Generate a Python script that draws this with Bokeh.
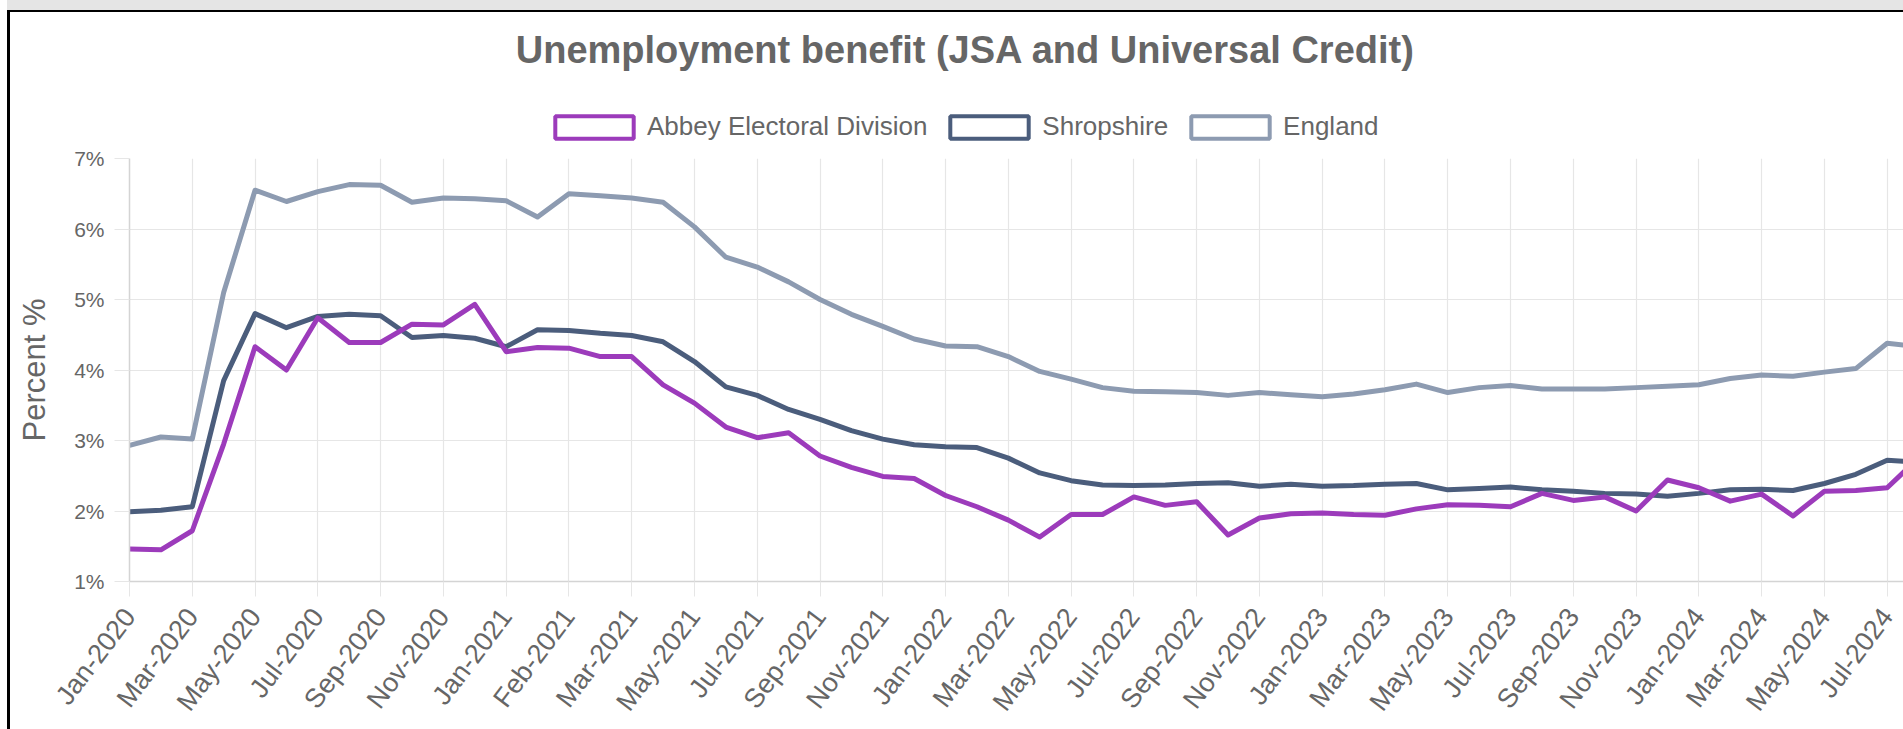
import math
from bokeh.plotting import figure
from bokeh.layouts import column
from bokeh.models import (FixedTicker, Range1d, Legend, LegendItem, Label,
                          PrintfTickFormatter)
from bokeh.embed import file_html
from bokeh.resources import INLINE

# ---------------- data ----------------
months = [
    "Jan-2020", "Feb-2020", "Mar-2020", "Apr-2020", "May-2020", "Jun-2020",
    "Jul-2020", "Aug-2020", "Sep-2020", "Oct-2020", "Nov-2020", "Dec-2020",
    "Jan-2021", "Jan-2021 (r)", "Feb-2021", "Feb-2021 (r)", "Mar-2021", "Apr-2021",
    "May-2021", "Jun-2021", "Jul-2021", "Aug-2021", "Sep-2021", "Oct-2021",
    "Nov-2021", "Dec-2021", "Jan-2022", "Feb-2022", "Mar-2022", "Apr-2022",
    "May-2022", "Jun-2022", "Jul-2022", "Aug-2022", "Sep-2022", "Oct-2022",
    "Nov-2022", "Dec-2022", "Jan-2023", "Feb-2023", "Mar-2023", "Apr-2023",
    "May-2023", "Jun-2023", "Jul-2023", "Aug-2023", "Sep-2023", "Oct-2023",
    "Nov-2023", "Dec-2023", "Jan-2024", "Feb-2024", "Mar-2024", "Apr-2024",
    "May-2024", "Jun-2024", "Jul-2024", "Aug-2024",
]

abbey = [
    1.46, 1.45, 1.72, 2.95, 4.33, 4.00, 4.74, 4.39, 4.39, 4.65,
    4.64, 4.93, 4.26, 4.32, 4.31, 4.19, 4.19, 3.79, 3.53, 3.19,
    3.04, 3.11, 2.78, 2.62, 2.49, 2.46, 2.22, 2.06, 1.87, 1.63,
    1.95, 1.95, 2.20, 2.08, 2.13, 1.66, 1.90, 1.96, 1.97, 1.95,
    1.94, 2.03, 2.09, 2.08, 2.06, 2.25, 2.15, 2.20, 2.00, 2.44,
    2.33, 2.14, 2.24, 1.93, 2.28, 2.29, 2.33, 2.75,
]

shropshire = [
    1.99, 2.01, 2.06, 3.85, 4.80, 4.60, 4.76, 4.79, 4.77, 4.46,
    4.49, 4.45, 4.33, 4.57, 4.56, 4.52, 4.49, 4.40, 4.12, 3.76,
    3.64, 3.44, 3.30, 3.14, 3.02, 2.94, 2.91, 2.90, 2.75, 2.54,
    2.43, 2.37, 2.36, 2.37, 2.39, 2.40, 2.35, 2.38, 2.35, 2.36,
    2.38, 2.39, 2.30, 2.32, 2.34, 2.30, 2.28, 2.25, 2.24, 2.21,
    2.25, 2.30, 2.31, 2.29, 2.39, 2.52, 2.72, 2.69,
]

england = [
    2.93, 3.05, 3.02, 5.10, 6.55, 6.39, 6.53, 6.63, 6.62, 6.38,
    6.44, 6.43, 6.40, 6.17, 6.50, 6.47, 6.44, 6.38, 6.03, 5.60,
    5.46, 5.25, 5.00, 4.79, 4.62, 4.44, 4.34, 4.33, 4.19, 3.98,
    3.87, 3.75, 3.70, 3.69, 3.68, 3.64, 3.68, 3.65, 3.62, 3.66,
    3.72, 3.80, 3.68, 3.75, 3.78, 3.73, 3.73, 3.73, 3.75, 3.77,
    3.79, 3.88, 3.93, 3.91, 3.97, 4.02, 4.38, 4.33,
]

series_names = ["Abbey Electoral Division", "Shropshire", "England"]
series_values = [abbey, shropshire, england]
series_colors = ["#9c3bbb", "#4b5d7c", "#8d9bb1"]

title_text = "Unemployment benefit (JSA and Universal Credit)"
y_title = "Percent %"
y_ticks = [1, 2, 3, 4, 5, 6, 7]

FONT = "Liberation Sans"
TXT = "#666666"
GRID = "#e6e6e6"

# ---------------- header (title + legend) ----------------
# (its frame is aligned with the chart frame by the column layout)
head = figure(width=1893, height=130, output_backend="svg", toolbar_location=None,
              title=None, x_axis_type=None, y_axis_type=None,
              x_range=Range1d(0, 1), y_range=Range1d(0, 1), min_border=0)
head.outline_line_color = None
head.background_fill_color = "white"
head.border_fill_color = "white"

head.add_layout(Label(x=836, y=93, x_units="screen", y_units="screen",
                      text=title_text, text_font=FONT, text_font_size="38px",
                      text_font_style="bold", text_color=TXT,
                      text_align="center", text_baseline="middle"))

items = []
nan = float("nan")
for name, col in zip(series_names, series_colors):
    r = head.rect(x=[nan], y=[nan], width=1, height=1, fill_color="white",
                  line_color=col, line_width=4)
    items.append(LegendItem(label=name, renderers=[r]))
legend = Legend(items=items, orientation="horizontal", location=(416, 0),
                glyph_width=98, glyph_height=28, label_height=28,
                label_standoff=4, spacing=13,
                padding=0, margin=0, border_line_color=None,
                background_fill_alpha=0,
                label_text_font=FONT, label_text_font_size="26px",
                label_text_color=TXT, label_text_baseline="middle")
head.add_layout(legend)

# ---------------- chart ----------------
x = list(range(len(months)))
x_ticks = list(range(0, len(months), 2))

p = figure(width=1893, height=587, output_backend="svg", toolbar_location=None,
           title=None,
           x_range=Range1d(0, 56.52), y_range=Range1d(y_ticks[0], y_ticks[-1]),
           min_border_left=119, min_border_right=0,
           min_border_top=16, min_border_bottom=148)
p.outline_line_color = None
p.background_fill_color = "white"
p.border_fill_color = "white"

p.xaxis.ticker = FixedTicker(ticks=x_ticks)
p.xaxis.major_label_overrides = {i: months[i] for i in x_ticks}
p.xaxis.major_label_orientation = 0.925
p.yaxis.ticker = FixedTicker(ticks=y_ticks)
p.yaxis.formatter = PrintfTickFormatter(format="%d%%")
for ax in (p.xaxis, p.yaxis):
    ax.axis_line_color = "#d4d4d4"
    ax.axis_line_width = 1.5
    ax.major_tick_line_color = GRID
    ax.major_tick_out = 15
    ax.major_tick_in = 0
    ax.minor_tick_line_color = None
    ax.major_label_text_font = FONT
    ax.major_label_text_color = TXT
    ax.major_label_standoff = 10
p.xaxis.major_label_text_font_size = "27px"
p.xaxis.major_label_standoff = 15
p.yaxis.major_label_text_font_size = "21px"
p.yaxis.axis_label = y_title
p.yaxis.axis_label_text_font = FONT
p.yaxis.axis_label_text_font_size = "31px"
p.yaxis.axis_label_text_font_style = "normal"
p.yaxis.axis_label_text_color = TXT
p.yaxis.axis_label_standoff = 19

p.xgrid.ticker = FixedTicker(ticks=x_ticks)
p.ygrid.ticker = FixedTicker(ticks=y_ticks)
p.grid.grid_line_color = GRID
p.grid.grid_line_width = 1.2

# lines (first dataset drawn on top)
for name, vals, col in reversed(list(zip(series_names, series_values, series_colors))):
    p.line(x, vals, line_color=col, line_width=5, line_join="round", line_cap="round")

page = column(head, p, spacing=0)
page.styles = {"margin-top": "10px", "margin-left": "7px",
               "border-top": "2px solid #000000",
               "border-left": "3px solid #000000",
               "box-shadow": "0 -10px 0 0 #e5e5e5"}

open("out.html", "w").write(file_html(page, INLINE))
